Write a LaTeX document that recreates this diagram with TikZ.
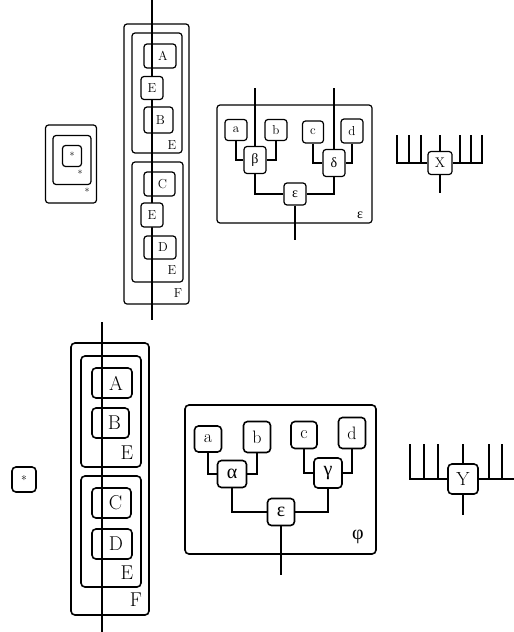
\RequirePackage{fix-cm}
\documentclass[tikz,border=0pt]{standalone}
\usepackage{fontspec}
\newfontfamily\grk{Liberation Serif}
\begin{document}
\begin{tikzpicture}[x=1pt,y=-1pt,
  bx/.style={draw, rounded corners=3pt, inner sep=0pt, line width=1.2pt, font=\fontsize{13}{15}\selectfont},
  bxb/.style={draw, rounded corners=4pt, inner sep=0pt, line width=1.6pt},
  sz/.style n args={2}{minimum width=#1, minimum height=#2},
  lbl/.style={inner sep=0pt, font=\fontsize{13}{15}\selectfont},
  lblb/.style={inner sep=0pt, font=\fontsize{20}{22}\selectfont},
  ln/.style={line width=1.2pt},
  lnb/.style={line width=1.6pt},
  fb/.style={font=\fontsize{20}{22}\selectfont},
  ft/.style={font=\fontsize{18}{20}\selectfont},
  gt/.style={font=\fontsize{14}{16}\grk},
  gb/.style={font=\fontsize{20}{22}\grk}
]
\useasboundingbox (0,0) rectangle (514,632);

% ---------- top-left nested stars ----------
\node[bx, sz={51}{78}] (s1) at (71,164) {};
\node[bx, sz={38}{49}] (s2) at (72,160) {};
\node[bx, sz={19}{21}, font=\fontsize{10}{11}\selectfont] (s3) at (72,156) {*};
\node[lbl, font=\fontsize{10}{11}\selectfont] (s2l) at (80,174) {*};
\node[lbl, font=\fontsize{10}{11}\selectfont] (s1l) at (87,192) {*};

% ---------- top F stack ----------
\coordinate (t1) at (152,0);
\coordinate (b1) at (152,320);
\draw[ln] (t1) -- (b1);
\node[bx, sz={65}{280}] (F1) at (156.5,164) {};
\node[bx, sz={50}{120}] (E1) at (157,93) {};
\node[bx, sz={32}{24}] (A1) at (160,56) {\hspace*{6pt}A};
\node[bx, sz={22}{23}, fill=white] (Em1) at (152,88) {E};
\node[bx, sz={29}{26}] (B1) at (158.5,120) {\hspace*{4pt}B};
\node[lbl] (E1l) at (172,145) {E};
\node[bx, sz={51}{120}] (E2) at (157.5,222) {};
\node[bx, sz={31}{24}] (C1) at (159.5,184) {\hspace*{6pt}C};
\node[bx, sz={22}{24}, fill=white] (Em2) at (152,215) {E};
\node[bx, sz={32}{23}] (D1) at (160,247.5) {\hspace*{6pt}D};
\node[lbl] (E2l) at (172,270) {E};
\node[lbl] (F1l) at (178,293) {F};

% ---------- top tree ----------
\node[bx, sz={155}{118}] (T1) at (294.5,164) {};
\node[lbl, gt] (T1l) at (360,215) {ε};
\node[bx, sz={22}{21}] (ta) at (236,130) {a};
\node[bx, sz={22}{21}] (tb) at (276,130) {b};
\node[bx, sz={21}{22}] (tc) at (313,132) {c};
\node[bx, sz={22}{24}] (td) at (352,131) {d};
\node[bx, sz={22}{27}, gt] (tbeta) at (255,160) {β};
\node[bx, sz={22}{27}, gt] (tdelta) at (334,163) {δ};
\node[bx, sz={22}{22}, gt] (teps) at (295,194) {ε};
\coordinate (tbt) at (255,88);
\coordinate (tdt) at (334,88);
\coordinate (tet) at (295,240);
\draw[ln] (ta.south) |- (tbeta.west);
\draw[ln] (tb.south) |- (tbeta.east);
\draw[ln] (tc.south) |- (tdelta.west);
\draw[ln] (td.south) |- (tdelta.east);
\draw[ln] (tbeta.south) |- (teps.west);
\draw[ln] (tdelta.south) |- (teps.east);
\draw[ln] (tbt) -- (tbeta.north);
\draw[ln] (tdt) -- (tdelta.north);
\draw[ln] (teps.south) -- (tet);

% ---------- X ----------
\node[bx, sz={24}{23}, font=\fontsize{14}{16}\selectfont] (X) at (440,163) {X};
\coordinate (x1) at (397,135);
\coordinate (x2) at (409,135);
\coordinate (x3) at (421,135);
\coordinate (x4) at (460,135);
\coordinate (x5) at (471,135);
\coordinate (x6) at (482,135);
\coordinate (x0) at (440,135);
\coordinate (xb) at (440,193);
\draw[ln] (x1) |- (X.west);
\draw[ln] (x2) -- ++(0,28);
\draw[ln] (x3) -- ++(0,28);
\draw[ln] (x6) |- (X.east);
\draw[ln] (x4) -- ++(0,28);
\draw[ln] (x5) -- ++(0,28);
\draw[ln] (x0) -- (X.north);
\draw[ln] (X.south) -- (xb);

% ---------- bottom star ----------
\node[bxb, sz={24}{25}, font=\fontsize{12}{13}\selectfont] (st) at (24,479.5) {*};

% ---------- bottom F stack ----------
\node[bxb, sz={78}{272}] (F2) at (110,479) {};
\node[bxb, sz={60}{111}] (E3) at (111,411.5) {};
\node[bxb, sz={40}{30}, fb] (A2) at (112,383) {\hspace*{8pt}A};
\node[bxb, sz={37}{30}, fb] (B2) at (110.5,423) {\hspace*{8pt}B};
\node[lblb] (E3l) at (127,453) {E};
\node[bxb, sz={60}{111}] (E4) at (111,531.5) {};
\node[bxb, sz={39}{30}, fb] (C2) at (111.5,503) {\hspace*{8pt}C};
\node[bxb, sz={40}{30}, fb] (D2) at (112,544) {\hspace*{8pt}D};
\node[lblb] (E4l) at (127,573) {E};
\node[lblb] (F2l) at (136,600) {F};
\coordinate (t2) at (102,322);
\coordinate (b2) at (102,632);
\draw[lnb] (t2) -- (b2);

% ---------- bottom tree ----------
\node[bxb, sz={191}{149}] (T2) at (280.5,479.5) {};
\node[inner sep=0pt, gb] (T2l) at (358,537) {φ};
\node[bxb, sz={27}{26}, ft] (ba) at (208,439) {a};
\node[bxb, sz={27}{31}, ft] (bb) at (257,437) {b};
\node[bxb, sz={26}{27}, ft] (bc) at (304,435) {c};
\node[bxb, sz={27}{31}, ft] (bd) at (352,433) {d};
\node[bxb, sz={29}{27}, gb] (balpha) at (232,474) {α};
\node[bxb, sz={28}{30}, gb] (bgamma) at (328,473) {γ};
\node[bxb, sz={27}{27}, gb] (beps) at (281,512) {ε};
\coordinate (bet) at (281,575);
\draw[lnb] (ba.south) |- (balpha.west);
\draw[lnb] (bb.south) |- (balpha.east);
\draw[lnb] (bc.south) |- (bgamma.west);
\draw[lnb] (bd.south) |- (bgamma.east);
\draw[lnb] (balpha.south) |- (beps.west);
\draw[lnb] (bgamma.south) |- (beps.east);
\draw[lnb] (beps.south) -- (bet);

% ---------- Y ----------
\node[bxb, sz={30}{30}, font=\fontsize{19}{21}\selectfont] (Y) at (463,479) {Y};
\coordinate (y1) at (410,444);
\coordinate (y2) at (424,444);
\coordinate (y3) at (438,444);
\coordinate (y4) at (489,444);
\coordinate (y5) at (502,444);
\coordinate (ye) at (514,479);
\coordinate (y0) at (463,444);
\coordinate (yb) at (463,515);
\draw[lnb] (y1) |- (Y.west);
\draw[lnb] (y2) -- ++(0,35);
\draw[lnb] (y3) -- ++(0,35);
\draw[lnb] (Y.east) -- (ye);
\draw[lnb] (y4) -- ++(0,35);
\draw[lnb] (y5) -- ++(0,35);
\draw[lnb] (y0) -- (Y.north);
\draw[lnb] (Y.south) -- (yb);
\end{tikzpicture}
\end{document}
